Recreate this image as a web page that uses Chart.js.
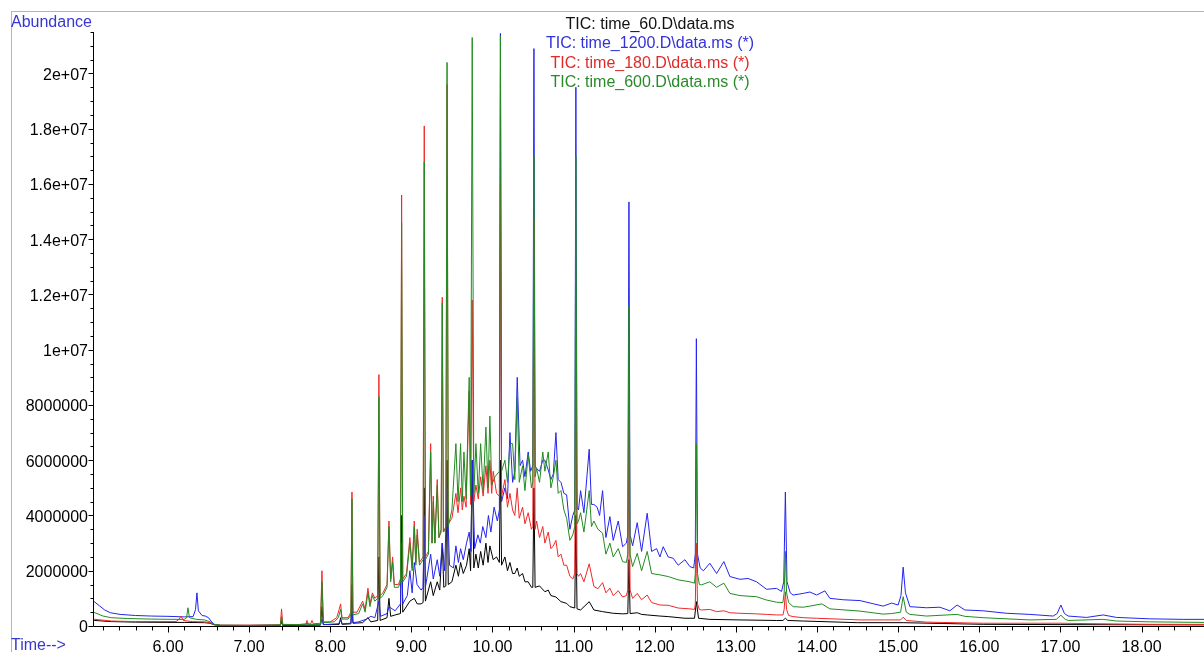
<!DOCTYPE html>
<html>
<head>
<meta charset="utf-8">
<script src="https://cdn.jsdelivr.net/npm/chart.js@4/dist/chart.umd.min.js"></script>
<style>
  html, body { margin: 0; padding: 0; background: #fff; }
  #wrap { position: relative; width: 1204px; height: 652px; overflow: hidden;
          font-family: "Liberation Sans", Arial, sans-serif; }
  #frame { position: absolute; left: 11px; top: 11px; width: 1300px; height: 700px;
           border-top: 1px solid #7edc7e; border-left: 1px solid #7edc7e; }
  canvas { position: absolute; left: 0; top: 0; }
  .txt { position: absolute; font-size: 16px; line-height: 19px; white-space: nowrap; }
  #legend { position: absolute; left: 450px; top: 14px; width: 400px; text-align: center;
            font-size: 16px; line-height: 19.3px; white-space: nowrap; }
</style>
</head>
<body>
<div id="wrap">
  <div id="frame"></div>
  <canvas id="tic" width="1204" height="652"></canvas>
  <div class="txt" style="left:11px; top:12px; color:#3636d2;">Abundance</div>
  <div class="txt" style="left:11px; top:635px; color:#3636d2;">Time--&gt;</div>
  <div id="legend"></div>
</div>
<script>
// Total ion chromatograms: [retention time (min), abundance (millions of counts)]
const tic60 = [
  [5.076,0.22],[5.10,0.2],[5.30,0.16],[5.60,0.14],[6.00,0.13],[6.20,0.13],[6.45,0.12],[6.52,0.1],[6.57,0.04],[6.65,0.02],
  [7.00,0.02],[7.385,0.02],[7.40,0.15],[7.415,0.02],[7.88,0.03],[7.898,0.7],[7.915,0.05],[8.00,0.05],[8.11,0.06],[8.128,0.3],
  [8.145,0.06],[8.255,0.08],[8.268,1.5],[8.28,0.1],[8.40,0.12],[8.465,0.3],[8.50,0.15],[8.585,0.2],[8.60,2.5],[8.615,0.2],
  [8.70,0.3],[8.724,1.0],[8.745,0.35],[8.80,0.4],[8.866,0.45],[8.88,4.0],[8.894,0.5],[8.982,0.9],[9.036,1.0],[9.072,0.8],
  [9.12,0.8],[9.145,0.85],[9.159,5.0],[9.173,0.9],[9.238,1.6],[9.27,1.1],[9.319,1.6],[9.35,1.3],[9.381,3.0],[9.40,1.4],
  [9.425,1.45],[9.44,6.0],[9.455,1.5],[9.50,1.6],[9.549,2.2],[9.58,1.8],[9.607,2.3],[9.64,1.9],[9.68,2.2],[9.713,2.8],
  [9.73,2.0],[9.75,6.0],[9.77,2.1],[9.796,2.6],[9.825,2.1],[9.854,2.7],[9.885,2.2],[9.919,3.0],[9.945,2.3],[9.968,2.9],
  [10.009,2.4],[10.05,2.5],[10.085,2.3],[10.098,6.0],[10.112,2.2],[10.153,2.5],[10.185,2.0],[10.215,2.3],[10.248,1.9],[10.275,1.9],
  [10.305,2.1],[10.33,1.8],[10.371,1.9],[10.40,1.6],[10.44,1.6],[10.48,1.4],[10.497,1.4],[10.511,5.0],[10.525,1.4],[10.58,1.45],
  [10.646,1.24],[10.687,1.3],[10.72,1.1],[10.782,1.05],[10.844,0.88],[10.914,0.82],[10.954,0.7],[11.014,0.65],[11.028,4.0],[11.042,0.62],
  [11.086,0.58],[11.192,0.88],[11.25,0.58],[11.357,0.52],[11.488,0.46],[11.604,0.44],[11.668,0.45],[11.682,2.4],[11.696,0.45],[11.784,0.48],
  [11.838,0.42],[11.907,0.4],[12.064,0.36],[12.166,0.34],[12.372,0.28],[12.49,0.28],[12.513,0.88],[12.54,0.28],[12.679,0.24],[13.05,0.22],
  [13.502,0.2],[13.58,0.2],[13.61,0.28],[13.64,0.2],[13.83,0.18],[14.50,0.12],[15.062,0.12],[16.048,0.06],[17.006,0.05],[18.77,0.04]
];

const tic1200 = [
  [5.076,0.92],[5.10,0.86],[5.16,0.72],[5.22,0.58],[5.29,0.48],[5.41,0.42],[5.60,0.38],[5.80,0.36],[6.00,0.35],[6.20,0.33],
  [6.31,0.34],[6.34,0.6],[6.357,1.2],[6.375,0.55],[6.42,0.38],[6.46,0.36],[6.50,0.3],[6.53,0.18],[6.57,0.06],[6.65,0.02],
  [7.00,0.02],[7.385,0.03],[7.40,0.2],[7.415,0.03],[7.88,0.04],[7.898,0.25],[7.915,0.05],[8.10,0.08],[8.128,0.2],[8.15,0.08],
  [8.255,0.1],[8.268,0.6],[8.28,0.12],[8.35,0.15],[8.45,0.25],[8.50,0.35],[8.55,0.3],[8.60,0.9],[8.62,0.35],[8.70,0.45],
  [8.724,0.7],[8.80,0.55],[8.866,0.8],[8.88,3.0],[8.894,0.8],[8.95,1.1],[8.982,2.0],[9.01,1.2],[9.036,2.3],[9.07,1.5],
  [9.12,1.3],[9.145,1.4],[9.159,4.0],[9.173,1.4],[9.238,2.6],[9.27,1.7],[9.319,2.4],[9.35,1.8],[9.381,3.0],[9.41,2.0],
  [9.44,5.0],[9.47,2.2],[9.52,2.1],[9.549,2.9],[9.58,2.3],[9.607,2.8],[9.64,2.4],[9.68,3.0],[9.713,3.4],[9.735,2.7],
  [9.75,6.0],[9.78,2.8],[9.82,3.3],[9.85,3.0],[9.88,3.6],[9.919,3.2],[9.95,4.0],[9.98,3.4],[10.02,4.3],[10.06,3.8],
  [10.085,4.2],[10.098,21.45],[10.112,4.5],[10.153,5.0],[10.185,4.6],[10.215,7.0],[10.248,5.2],[10.275,5.6],[10.305,9.0],[10.34,5.8],
  [10.371,6.0],[10.40,5.4],[10.44,6.3],[10.47,5.6],[10.497,5.8],[10.511,20.9],[10.525,5.8],[10.544,5.7],[10.58,5.6],[10.62,6.0],
  [10.646,6.0],[10.687,5.65],[10.72,5.3],[10.75,5.5],[10.782,7.0],[10.81,5.3],[10.844,5.2],[10.88,4.8],[10.914,4.75],[10.954,3.5],
  [10.99,4.0],[11.014,4.2],[11.028,19.5],[11.042,4.3],[11.06,4.2],[11.086,4.9],[11.127,4.1],[11.192,6.4],[11.22,4.4],[11.25,4.4],
  [11.29,4.3],[11.32,4.0],[11.357,4.9],[11.398,3.2],[11.447,3.96],[11.488,3.1],[11.55,3.8],[11.604,2.87],[11.65,3.0],[11.668,3.3],
  [11.682,15.35],[11.696,3.3],[11.727,2.9],[11.784,3.74],[11.838,2.7],[11.907,4.08],[11.961,2.7],[12.023,2.8],[12.064,2.5],[12.104,2.87],
  [12.166,2.5],[12.228,2.45],[12.289,2.2],[12.372,2.4],[12.433,2.15],[12.48,2.1],[12.50,2.6],[12.513,10.4],[12.527,2.6],[12.56,2.1],
  [12.60,2.0],[12.679,2.27],[12.762,1.9],[12.852,2.33],[12.926,1.79],[13.05,1.69],[13.15,1.72],[13.255,1.6],[13.378,1.33],[13.502,1.36],
  [13.563,1.25],[13.59,1.6],[13.61,4.85],[13.63,1.6],[13.67,1.2],[13.706,1.12],[13.83,1.18],[13.912,1.23],[13.995,1.12],[14.097,1.27],
  [14.159,1.0],[14.323,0.95],[14.529,0.92],[14.70,0.8],[14.816,0.72],[14.92,0.83],[15.00,0.76],[15.035,1.1],[15.062,2.13],[15.09,1.2],
  [15.145,0.7],[15.35,0.66],[15.514,0.68],[15.637,0.55],[15.727,0.76],[15.823,0.58],[16.048,0.55],[16.337,0.46],[16.623,0.42],[16.911,0.36],
  [16.96,0.45],[17.006,0.76],[17.05,0.45],[17.096,0.36],[17.322,0.31],[17.527,0.4],[17.692,0.31],[18.102,0.26],[18.513,0.24],[18.77,0.24]
];

const tic180 = [
  [5.076,0.26],[5.10,0.24],[5.30,0.18],[5.60,0.16],[5.90,0.16],[6.10,0.16],[6.14,0.25],[6.16,0.36],[6.19,0.2],[6.30,0.16],
  [6.45,0.15],[6.52,0.12],[6.57,0.05],[6.65,0.03],[7.00,0.03],[7.385,0.04],[7.40,0.62],[7.415,0.06],[7.60,0.05],[7.70,0.08],
  [7.713,0.2],[7.73,0.08],[7.76,0.08],[7.775,0.2],[7.79,0.08],[7.88,0.1],[7.898,2.0],[7.915,0.15],[8.00,0.15],[8.08,0.3],
  [8.11,0.6],[8.128,0.8],[8.145,0.3],[8.22,0.3],[8.255,0.5],[8.268,4.85],[8.28,0.5],[8.33,0.5],[8.40,0.9],[8.43,0.6],
  [8.465,1.37],[8.49,0.8],[8.52,1.2],[8.55,1.0],[8.585,1.1],[8.60,9.1],[8.615,1.1],[8.65,1.2],[8.70,1.5],[8.724,3.8],
  [8.745,1.7],[8.769,2.5],[8.79,1.5],[8.84,1.5],[8.866,1.7],[8.88,15.6],[8.894,1.7],[8.94,1.9],[8.982,3.2],[9.01,2.1],
  [9.036,3.8],[9.055,2.3],[9.072,3.5],[9.10,2.3],[9.145,2.5],[9.159,18.1],[9.173,2.5],[9.21,2.7],[9.238,6.6],[9.255,3.0],
  [9.27,4.7],[9.29,3.0],[9.319,5.3],[9.34,3.2],[9.367,3.4],[9.381,11.9],[9.395,3.4],[9.425,3.6],[9.44,19.6],[9.455,3.7],
  [9.50,3.9],[9.549,4.8],[9.575,4.1],[9.607,5.0],[9.628,4.2],[9.648,4.7],[9.675,4.3],[9.713,8.5],[9.73,4.4],[9.75,11.8],
  [9.77,4.5],[9.796,5.1],[9.825,4.6],[9.854,5.4],[9.885,4.7],[9.919,5.8],[9.945,4.8],[9.968,6.0],[9.99,4.8],[10.009,5.6],
  [10.05,4.8],[10.085,4.7],[10.098,16.0],[10.112,4.7],[10.153,5.3],[10.185,4.3],[10.215,4.8],[10.248,4.2],[10.275,4.0],[10.305,5.0],
  [10.33,3.9],[10.371,4.3],[10.40,3.7],[10.44,4.1],[10.48,3.5],[10.497,3.6],[10.511,14.7],[10.525,3.5],[10.544,3.8],[10.58,3.2],
  [10.62,3.6],[10.646,3.0],[10.687,3.4],[10.72,2.8],[10.75,2.9],[10.782,3.1],[10.81,2.5],[10.844,2.6],[10.88,2.2],[10.914,2.2],
  [10.954,1.8],[10.99,1.7],[11.014,1.9],[11.028,10.4],[11.042,1.9],[11.06,1.8],[11.086,1.9],[11.127,1.6],[11.192,2.25],[11.25,1.43],
  [11.30,1.35],[11.357,1.57],[11.398,1.2],[11.447,1.37],[11.488,1.1],[11.55,1.28],[11.604,1.05],[11.65,1.1],[11.668,1.3],[11.682,7.5],
  [11.696,1.3],[11.727,1.0],[11.784,1.18],[11.838,0.95],[11.907,1.12],[11.961,0.85],[12.064,0.76],[12.166,0.75],[12.289,0.65],[12.433,0.62],
  [12.49,0.6],[12.50,0.8],[12.513,3.0],[12.527,0.8],[12.55,0.6],[12.577,0.58],[12.679,0.6],[12.762,0.52],[12.852,0.55],[12.926,0.48],
  [13.05,0.46],[13.255,0.44],[13.378,0.42],[13.502,0.4],[13.58,0.4],[13.595,0.6],[13.61,1.24],[13.625,0.6],[13.65,0.38],[13.706,0.34],
  [13.83,0.3],[13.995,0.28],[14.529,0.22],[14.816,0.22],[15.03,0.22],[15.062,0.32],[15.10,0.2],[15.35,0.14],[16.048,0.1],[17.006,0.1],
  [17.50,0.08],[18.102,0.06],[18.77,0.06]
];

const tic600 = [
  [5.076,0.5],[5.10,0.48],[5.20,0.36],[5.30,0.3],[5.50,0.27],[5.80,0.25],[6.10,0.24],[6.20,0.24],[6.23,0.3],[6.246,0.66],
  [6.265,0.3],[6.35,0.24],[6.45,0.22],[6.52,0.15],[6.57,0.06],[6.65,0.03],[7.00,0.02],[7.385,0.04],[7.40,0.34],[7.415,0.05],
  [7.70,0.05],[7.713,0.12],[7.73,0.05],[7.88,0.06],[7.898,1.6],[7.915,0.12],[8.05,0.15],[8.10,0.3],[8.128,0.6],[8.145,0.25],
  [8.22,0.25],[8.255,0.4],[8.268,4.6],[8.28,0.4],[8.35,0.45],[8.40,0.8],[8.43,0.5],[8.465,1.2],[8.49,0.7],[8.52,1.1],
  [8.55,0.9],[8.585,1.0],[8.60,8.3],[8.615,1.0],[8.65,1.1],[8.70,1.4],[8.724,3.6],[8.745,1.6],[8.769,2.3],[8.79,1.4],
  [8.84,1.4],[8.866,1.6],[8.88,14.6],[8.894,1.6],[8.94,1.8],[8.982,3.0],[9.01,2.0],[9.036,3.6],[9.055,2.2],[9.072,3.3],
  [9.10,2.2],[9.145,2.4],[9.159,16.8],[9.173,2.4],[9.21,2.6],[9.238,6.3],[9.255,3.0],[9.27,4.5],[9.29,3.0],[9.319,5.1],
  [9.34,3.2],[9.367,3.5],[9.381,11.7],[9.395,3.4],[9.425,3.5],[9.44,20.4],[9.455,3.6],[9.50,4.2],[9.549,6.6],[9.575,4.5],
  [9.607,6.6],[9.628,4.5],[9.648,6.3],[9.675,4.6],[9.713,9.0],[9.73,4.7],[9.75,21.3],[9.77,4.8],[9.796,6.6],[9.825,4.8],
  [9.854,6.6],[9.885,4.9],[9.919,7.2],[9.945,5.0],[9.968,7.6],[9.99,5.1],[10.03,5.4],[10.085,5.6],[10.098,21.35],[10.112,5.6],
  [10.153,6.0],[10.185,5.2],[10.215,6.6],[10.248,6.6],[10.275,5.3],[10.305,8.3],[10.33,5.2],[10.371,5.8],[10.40,4.9],[10.44,6.2],
  [10.48,5.0],[10.497,5.2],[10.511,17.0],[10.525,5.4],[10.544,5.7],[10.58,5.2],[10.62,6.3],[10.646,5.6],[10.687,6.3],[10.72,5.0],
  [10.75,5.4],[10.782,6.0],[10.81,4.8],[10.844,4.9],[10.88,4.2],[10.914,3.9],[10.954,3.1],[10.99,3.3],[11.014,3.6],[11.028,17.0],
  [11.042,3.7],[11.06,3.8],[11.086,4.1],[11.127,3.4],[11.192,4.9],[11.22,3.6],[11.25,3.8],[11.30,3.5],[11.357,3.36],[11.398,2.6],
  [11.447,3.0],[11.488,2.5],[11.55,2.8],[11.604,2.33],[11.65,2.3],[11.668,2.6],[11.682,11.6],[11.696,2.6],[11.727,2.15],[11.784,2.63],
  [11.838,2.0],[11.907,2.7],[11.961,1.9],[12.064,1.85],[12.166,1.79],[12.289,1.67],[12.433,1.6],[12.49,1.55],[12.50,1.9],[12.513,6.6],
  [12.527,1.9],[12.55,1.5],[12.577,1.49],[12.679,1.6],[12.762,1.4],[12.852,1.55],[12.926,1.18],[13.05,1.1],[13.255,1.06],[13.378,0.94],
  [13.502,0.86],[13.58,0.85],[13.595,1.2],[13.61,2.7],[13.625,1.2],[13.65,0.85],[13.706,0.7],[13.83,0.68],[13.912,0.72],[14.06,0.8],
  [14.159,0.62],[14.529,0.54],[14.816,0.43],[14.92,0.45],[15.03,0.5],[15.062,1.06],[15.10,0.5],[15.145,0.42],[15.35,0.36],[15.727,0.42],
  [15.823,0.35],[16.048,0.3],[16.623,0.22],[16.95,0.24],[17.006,0.39],[17.06,0.24],[17.096,0.2],[17.527,0.24],[17.692,0.18],[18.102,0.15],
  [18.77,0.13]
];

const seriesNames = ['TIC: time_60.D\\data.ms', 'TIC: time_1200.D\\data.ms (*)', 'TIC: time_180.D\\data.ms (*)', 'TIC: time_600.D\\data.ms (*)'];
const seriesColors = ['#000000', '#2424f0', '#f02828', '#228b22'];
const textColors = ['#111111', '#3232d8', '#e02a2a', '#2a8a2a'];
const seriesData = [tic60, tic1200, tic180, tic600];
const drawOrder = [4, 3, 2, 1];   // time_60 painted first, time_600 last

const timeTicks = [6, 7, 8, 9, 10, 11, 12, 13, 14, 15, 16, 17, 18];
const abundanceTicks = [0, 2e6, 4e6, 6e6, 8e6, 1e7, 1.2e7, 1.4e7, 1.6e7, 1.8e7, 2e7];
const timeRange = [5.076, 18.77];
const abundanceMax = 2.15e7;
const MILLION = 1e6;

const FONT = '"Liberation Sans", Arial, sans-serif';

// legend lines
const legend = document.getElementById('legend');
seriesNames.forEach((name, i) => {
  const d = document.createElement('div');
  d.textContent = name;
  d.style.color = textColors[i];
  legend.appendChild(d);
});

function abundanceLabel(v) {
  if (v === 0) return '0';
  if (v >= 1e7) return String(+(v / 1e7).toFixed(1)) + 'e+07';
  return String(Math.round(v));
}

// axis lines with major and minor tick marks, positioned through the scales
const axisMarks = {
  id: 'axisMarks',
  afterDraw(chart) {
    const { ctx, chartArea: a, scales: { x, y } } = chart;
    const ax = Math.round(a.left) + 0.5;
    const ay = Math.round(a.bottom) + 0.5;
    ctx.save();
    ctx.strokeStyle = '#000';
    ctx.lineWidth = 1;
    ctx.beginPath();
    ctx.moveTo(ax, a.top);
    ctx.lineTo(ax, ay);
    ctx.lineTo(a.right, ay);
    for (let i = 0; i * 5e5 <= y.max; i++) {
      const py = Math.round(y.getPixelForValue(i * 5e5)) + 0.5;
      const len = i % 4 === 0 ? 5 : 3;
      ctx.moveTo(ax - len, py);
      ctx.lineTo(ax, py);
    }
    for (let i = Math.ceil(x.min / 0.2); i * 0.2 <= x.max; i++) {
      const px = Math.round(x.getPixelForValue(i * 0.2)) + 0.5;
      const len = i % 5 === 0 ? 6 : 4;
      ctx.moveTo(px, ay);
      ctx.lineTo(px, ay + len);
    }
    ctx.stroke();
    ctx.restore();
  }
};

new Chart(document.getElementById('tic'), {
  type: 'line',
  data: {
    datasets: seriesData.map((pts, i) => ({
      label: seriesNames[i],
      data: pts.map(p => ({ x: p[0], y: p[1] * MILLION })),
      borderColor: seriesColors[i],
      borderWidth: 1,
      pointRadius: 0,
      tension: 0,
      fill: false,
      order: drawOrder[i]
    }))
  },
  options: {
    responsive: false,
    animation: false,
    devicePixelRatio: 1,
    events: [],
    parsing: false,
    layout: { padding: { top: 32, left: 0, right: 0, bottom: 0 } },
    plugins: { legend: { display: false }, tooltip: { enabled: false }, title: { display: false } },
    scales: {
      x: {
        type: 'linear',
        min: timeRange[0],
        max: timeRange[1],
        grid: { display: false, drawTicks: false },
        border: { display: false },
        afterBuildTicks: s => { s.ticks = timeTicks.map(v => ({ value: v })); },
        afterFit: s => { s.height = 26; },
        ticks: {
          color: '#000',
          font: { family: FONT, size: 16 },
          padding: 12,
          maxRotation: 0,
          autoSkip: false,
          callback: v => Number(v).toFixed(2)
        }
      },
      y: {
        type: 'linear',
        min: 0,
        max: abundanceMax,
        grid: { display: false, drawTicks: false },
        border: { display: false },
        afterBuildTicks: s => { s.ticks = abundanceTicks.map(v => ({ value: v })); },
        afterFit: s => { s.width = 93; },
        ticks: {
          color: '#000',
          font: { family: FONT, size: 16 },
          padding: 5,
          labelOffset: 2,
          autoSkip: false,
          callback: v => abundanceLabel(v)
        }
      }
    }
  },
  plugins: [axisMarks]
});
</script>
</body>
</html>
